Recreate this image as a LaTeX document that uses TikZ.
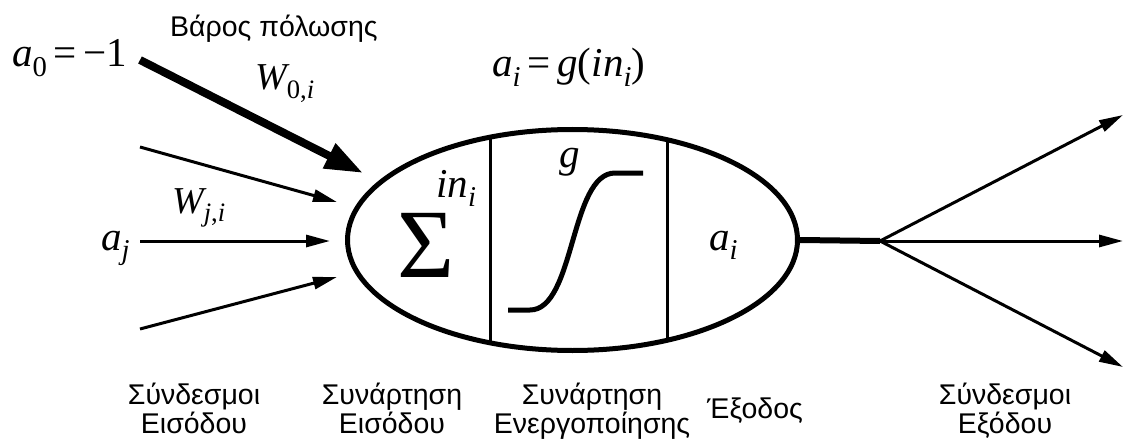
\documentclass[tikz,border=0pt]{standalone}
\usepackage{fontspec}
\usepackage{graphicx}
\setmainfont{Liberation Sans}
\newfontfamily\tms{Liberation Serif}
\usetikzlibrary{arrows.meta,shapes.geometric}
\newcommand\mv[1]{{\tms\itshape #1}}
\newcommand\mup[1]{{\tms #1}}
\newcommand\msb[1]{\raisebox{-0.22em}{\scalebox{0.7}{#1}}}
\begin{document}
\begin{tikzpicture}[x=1pt,y=-1pt,
  lab/.style={font=\fontsize{28.5}{30}\selectfont, inner sep=0pt, anchor=base},
  mth/.style={font=\fontsize{41}{43}\selectfont, inner sep=0pt, anchor=base west},
  wlab/.style={mth, font=\fontsize{38}{40}\selectfont},
  thinarrow/.style={line width=3pt, -{Triangle[length=24pt,width=12pt]}},
  biasarrow/.style={line width=8pt, -{Triangle[length=38pt,width=26pt]}},
  divider/.style={line width=3pt},
  thickline/.style={line width=6pt}]
\useasboundingbox (0,0) rectangle (1124,441);
\fill[white] (0,0) rectangle (1124,441);

% neuron body
\node[draw, ellipse, line width=5pt, inner sep=0pt, minimum width=450pt, minimum height=221pt] (neuron) at (572.5,240) {};
\coordinate (d1t) at (490,137.2);
\coordinate (d1b) at (490,342.8);
\coordinate (d2t) at (667,139.7);
\coordinate (d2b) at (667,340.3);
\draw[divider] (d1t) -- (d1b);
\draw[divider] (d2t) -- (d2b);

% sigmoid
\coordinate (s0) at (508,310);
\coordinate (s1) at (530,310);
\coordinate (s2) at (615,173);
\coordinate (s3) at (643,173);
\draw[line width=5pt] (s0) -- (s1) .. controls (575,310) and (570,173) .. (s2) -- (s3);

% inside labels
\node[inner sep=0pt, anchor=base west, font=\fontsize{98}{98}\selectfont] (sigma) at (397,277) {\mup{Σ}};
\node[mth] (ini) at (436,197) {\mv{in}\msb{\mv{i}}};
\node[mth] (g) at (559,167) {\mv{g}};
\node[mth] (ai) at (709,250) {\mv{a}\msb{\mv{i}}};

% outer math labels
\node[mth] (a0) at (12,67) {\mv{a}\msb{\mup{0}}\,\mup{=}\,\mup{−1}};
\node[wlab] (w0) at (255,90) {\mv{W}\msb{\mup{0,}\mv{i}}};
\node[mth] (eq) at (492,77) {\mv{a}\msb{\mv{i}}\,\mup{=}\,\mv{g}\mup{(}\mv{in}\msb{\mv{i}}\mup{)}};
\node[wlab] (wj) at (172,213) {\mv{W}\msb{\mv{j}\mup{,}\mv{i}}};
\node[mth] (aj) at (101,250) {\mv{a}\msb{\mv{j}}};

% top label
\node[lab, anchor=base west] (bias) at (170,37) {Βάρος πόλωσης};

% input arrows
\coordinate (b0) at (140,60);
\coordinate (b1) at (363,173);
\draw[biasarrow] (b0) -- (b1);
\coordinate (i1s) at (140,147);
\coordinate (i1e) at (337,202);
\coordinate (i2s) at (140,241);
\coordinate (i2e) at (330,241);
\coordinate (i3s) at (140,329);
\coordinate (i3e) at (337,277);
\draw[thinarrow] (i1s) -- (i1e);
\draw[thinarrow] (i2s) -- (i2e);
\draw[thinarrow] (i3s) -- (i3e);

% output
\coordinate (fan) at (880,241);
\coordinate (o1) at (1123,115);
\coordinate (o2) at (1123,241);
\coordinate (o3) at (1123,367);
\draw[thickline] (neuron.east) -- (fan);
\draw[thinarrow] (fan) -- (o1);
\draw[thinarrow] (fan) -- (o2);
\draw[thinarrow] (fan) -- (o3);

% bottom labels
\node[lab] (l1a) at (194,404) {Σύνδεσμοι};
\node[lab] (l1b) at (194,433) {Εισόδου};
\node[lab] (l2a) at (392,404) {Συνάρτηση};
\node[lab] (l2b) at (392,433) {Εισόδου};
\node[lab] (l3a) at (592,404) {Συνάρτηση};
\node[lab] (l3b) at (592,433) {Ενεργοποίησης};
\node[lab] (l4) at (755,418) {Έξοδος};
\node[lab] (l5a) at (1005,404) {Σύνδεσμοι};
\node[lab] (l5b) at (1005,433) {Εξόδου};
\end{tikzpicture}
\end{document}
